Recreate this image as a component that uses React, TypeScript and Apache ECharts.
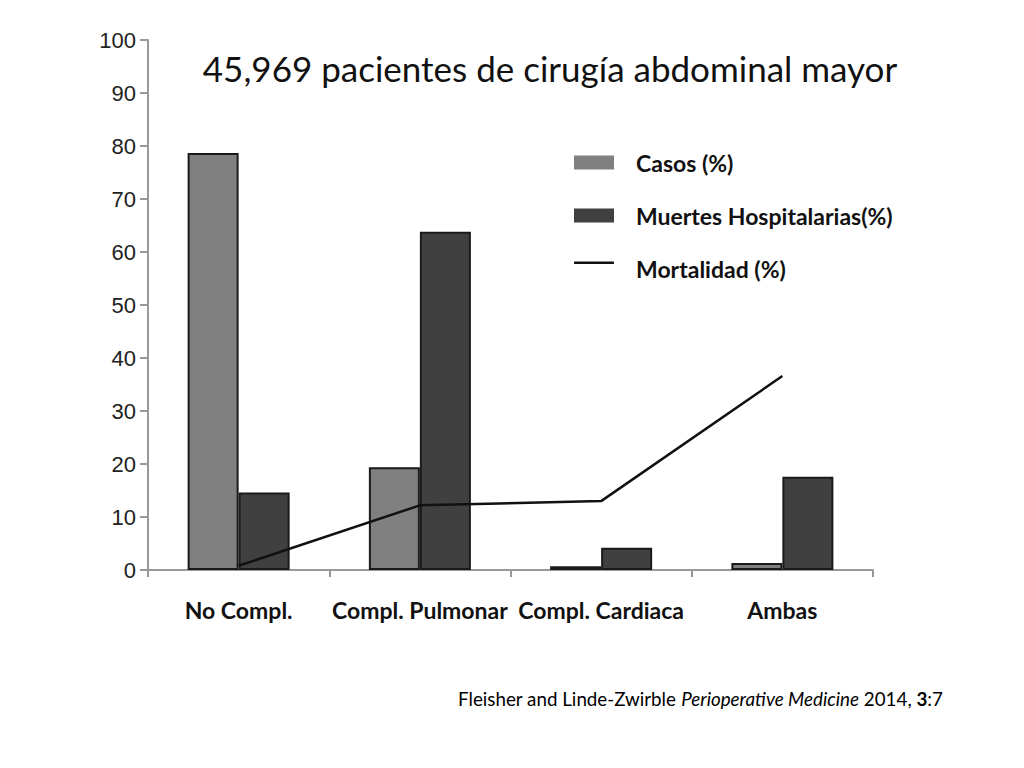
import React, { useEffect, useRef } from "react";
import * as echarts from "echarts";

const categories = ["No Compl.", "Compl. Pulmonar", "Compl. Cardiaca", "Ambas"];
const casos = [78.7, 19.4, 0.7, 1.3];
const muertes = [14.6, 63.8, 4.2, 17.6];
const mortalidad = [0.8, 12.2, 13.0, 36.6];
const yTicks = { min: 0, max: 100, interval: 10 };
const titleText = "45,969 pacientes de cirugía abdominal mayor";
const seriesNames = ["Casos (%)", "Muertes Hospitalarias(%)", "Mortalidad (%)"];

export default function App() {
  const ref = useRef<HTMLDivElement>(null);
  useEffect(() => {
    if (!ref.current) return;
    const chart = echarts.init(ref.current, null, { renderer: "svg" });
    const font = "Lato, 'Open Sans', sans-serif";
    chart.setOption({
      animation: false,
      backgroundColor: "#ffffff",
      title: {
        text: titleText,
        left: 545,
        top: 45,
        textAlign: "center",
        textStyle: { fontFamily: font, fontSize: 35, fontWeight: "normal", color: "#111" },
      },
      legend: {
        orient: "vertical",
        left: 569,
        top: 146,
        itemWidth: 40,
        itemHeight: 14,
        itemGap: 30,
        itemStyle: { borderWidth: 0 },
        textStyle: {
          fontFamily: font,
          fontSize: 23,
          fontWeight: "bold",
          color: "#111",
          padding: [0, 0, 0, 17],
        },
        data: [
          { name: seriesNames[0], icon: "rect" },
          { name: seriesNames[1], icon: "rect" },
          { name: seriesNames[2], icon: "path://M0,0H40V2.5H0ZM0,14H0.05V14.05H0Z" },
        ],
      },
      grid: { left: 148, right: 151, top: 40, bottom: 198, containLabel: false },
      xAxis: {
        type: "category",
        data: categories,
        boundaryGap: true,
        axisLine: { lineStyle: { color: "#999", width: 2 } },
        axisTick: { show: true, length: 7, lineStyle: { color: "#999", width: 2 } },
        axisLabel: {
          margin: 28,
          fontFamily: font,
          fontSize: 23,
          fontWeight: "bold",
          color: "#111",
          interval: 0,
        },
      },
      yAxis: {
        type: "value",
        min: yTicks.min,
        max: yTicks.max,
        interval: yTicks.interval,
        splitLine: { show: false },
        axisLine: { show: true, lineStyle: { color: "#999", width: 2 } },
        axisTick: { show: true, length: 8, lineStyle: { color: "#999", width: 2 } },
        axisLabel: {
          margin: 12,
          fontFamily: "'Liberation Sans', Arial, sans-serif",
          fontSize: 22,
          color: "#222",
        },
      },
      series: [
        {
          name: seriesNames[0],
          type: "bar",
          data: casos,
          barWidth: 51,
          barGap: "0%",
          itemStyle: { color: "#808080", borderColor: "#1a1a1a", borderWidth: 2 },
        },
        {
          name: seriesNames[1],
          type: "bar",
          data: muertes,
          barWidth: 51,
          barGap: "0%",
          itemStyle: { color: "#404040", borderColor: "#1a1a1a", borderWidth: 2 },
        },
        {
          name: seriesNames[2],
          type: "line",
          data: mortalidad,
          symbol: "none",
          lineStyle: { color: "#111", width: 2.5 },
          itemStyle: { color: "#111" },
          z: 5,
        },
      ],
      graphic: [
        {
          type: "text",
          left: 458,
          top: 689,
          style: {
            text: "{n|Fleisher and Linde-Zwirble }{i|Perioperative Medicine}{n| 2014, }{b|3}{n|:7}",
            rich: {
              n: { fontFamily: font, fontSize: 18.8, color: "#222" },
              i: { fontFamily: font, fontSize: 18.8, fontStyle: "italic", color: "#222" },
              b: { fontFamily: font, fontSize: 18.8, fontWeight: "bold", color: "#222" },
            },
          },
        },
      ],
    });
    return () => chart.dispose();
  }, []);
  return (
    <div
      ref={ref}
      style={{ position: "absolute", left: 0, top: 0, width: 1024, height: 768 }}
    />
  );
}
